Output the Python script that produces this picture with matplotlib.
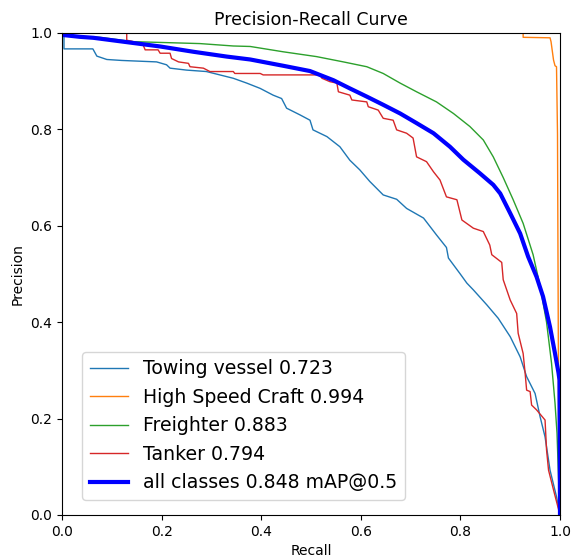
import matplotlib
matplotlib.use('Agg')
import matplotlib.pyplot as plt

# curves (recall, precision)
towing_r = [0, 0.004, 0.004, 0.062, 0.07, 0.09, 0.12, 0.19, 0.21, 0.217, 0.25, 0.29, 0.317,
            0.344, 0.371, 0.398, 0.424, 0.441, 0.451, 0.478, 0.498, 0.504, 0.532, 0.558, 0.578,
            0.598, 0.618, 0.645, 0.672, 0.692, 0.726, 0.752, 0.772, 0.776, 0.799, 0.813, 0.826,
            0.853, 0.876, 0.90, 0.92, 0.933, 0.95, 0.96, 0.97, 0.98, 0.993, 1.0]
towing_p = [1.0, 1.0, 0.967, 0.967, 0.952, 0.945, 0.943, 0.940, 0.934, 0.927, 0.923, 0.920, 0.913,
            0.906, 0.896, 0.885, 0.871, 0.864, 0.844, 0.830, 0.819, 0.799, 0.785, 0.764, 0.736,
            0.716, 0.692, 0.664, 0.655, 0.636, 0.616, 0.581, 0.555, 0.533, 0.501, 0.481, 0.467,
            0.436, 0.408, 0.370, 0.328, 0.287, 0.252, 0.204, 0.162, 0.093, 0.038, 0.0]

hsc_r = [0, 0.926, 0.926, 0.980, 0.982, 0.987, 0.990, 0.993, 0.995, 0.998]
hsc_p = [1.0, 1.0, 0.991, 0.990, 0.982, 0.944, 0.932, 0.930, 0.790, 0.0]

freighter_r = [0, 0.036, 0.076, 0.143, 0.277, 0.344, 0.378, 0.444, 0.511, 0.565, 0.612, 0.645,
               0.679, 0.712, 0.752, 0.786, 0.819, 0.846, 0.866, 0.886, 0.906, 0.926, 0.946, 0.960,
               0.973, 0.983, 0.990, 0.994, 0.997, 1.0]
freighter_p = [0.995, 0.993, 0.991, 0.982, 0.978, 0.973, 0.972, 0.961, 0.951, 0.940, 0.930, 0.916,
               0.896, 0.878, 0.857, 0.833, 0.806, 0.778, 0.743, 0.700, 0.654, 0.605, 0.540, 0.475,
               0.400, 0.315, 0.232, 0.17, 0.08, 0.0]

tanker_r = [0, 0.13, 0.13, 0.143, 0.163, 0.167, 0.193, 0.197, 0.217, 0.22, 0.234, 0.254, 0.257,
            0.284, 0.297, 0.344, 0.347, 0.398, 0.404, 0.518, 0.522, 0.538, 0.552, 0.555, 0.578,
            0.582, 0.612, 0.615, 0.635, 0.645, 0.665, 0.672, 0.692, 0.705, 0.712, 0.732, 0.746,
            0.759, 0.772, 0.793, 0.803, 0.826, 0.846, 0.859, 0.863, 0.883, 0.886, 0.90, 0.913,
            0.916, 0.926, 0.930, 0.933, 0.940, 0.943, 0.953, 0.970, 0.973, 0.977, 0.987, 1.0]
tanker_p = [1.0, 1.0, 0.985, 0.982, 0.975, 0.965, 0.965, 0.958, 0.958, 0.947, 0.940, 0.937, 0.930,
            0.927, 0.920, 0.920, 0.916, 0.916, 0.913, 0.913, 0.906, 0.899, 0.896, 0.878, 0.871,
            0.861, 0.857, 0.847, 0.840, 0.823, 0.819, 0.799, 0.792, 0.782, 0.743, 0.733, 0.712,
            0.695, 0.660, 0.654, 0.612, 0.595, 0.588, 0.560, 0.540, 0.524, 0.488, 0.446, 0.418,
            0.377, 0.335, 0.294, 0.259, 0.256, 0.228, 0.218, 0.197, 0.135, 0.093, 0.052, 0.0]

all_r = [0, 0.036, 0.063, 0.13, 0.197, 0.264, 0.331, 0.378, 0.444, 0.498, 0.545, 0.578, 0.612,
         0.645, 0.679, 0.712, 0.746, 0.779, 0.806, 0.839, 0.866, 0.880, 0.90, 0.92, 0.936, 0.953,
         0.966, 0.980, 0.990, 0.997, 0.999, 1.0]
all_p = [0.996, 0.992, 0.990, 0.981, 0.972, 0.961, 0.951, 0.945, 0.932, 0.921, 0.902, 0.885, 0.868,
         0.851, 0.833, 0.813, 0.792, 0.764, 0.737, 0.709, 0.685, 0.667, 0.626, 0.584, 0.536, 0.494,
         0.453, 0.390, 0.335, 0.295, 0.28, 0.0]

names = ['Towing vessel', 'High Speed Craft', 'Freighter', 'Tanker']
ap = [0.723, 0.994, 0.883, 0.794]
map50 = 0.848

fig = plt.figure(figsize=(5.74, 5.58), dpi=100)
ax = fig.add_axes([0.108, 0.0771, 0.8676, 0.8638])

curves = [(towing_r, towing_p), (hsc_r, hsc_p), (freighter_r, freighter_p), (tanker_r, tanker_p)]
for i, (r, p) in enumerate(curves):
    ax.plot(r, p, linewidth=1, label='{} {:.3f}'.format(names[i], ap[i]))

ax.plot(all_r, all_p, linewidth=3, color='blue', label='all classes {:.3f} mAP@0.5'.format(map50))

ax.set_xlabel('Recall')
ax.set_ylabel('Precision')
ax.set_xlim(0, 1)
ax.set_ylim(0, 1)
ax.set_title('Precision-Recall Curve', fontsize=12.5)
ax.legend(loc='lower left', bbox_to_anchor=(0.022, 0.012), fontsize=13.6)

fig.savefig('out.png', dpi=100)
